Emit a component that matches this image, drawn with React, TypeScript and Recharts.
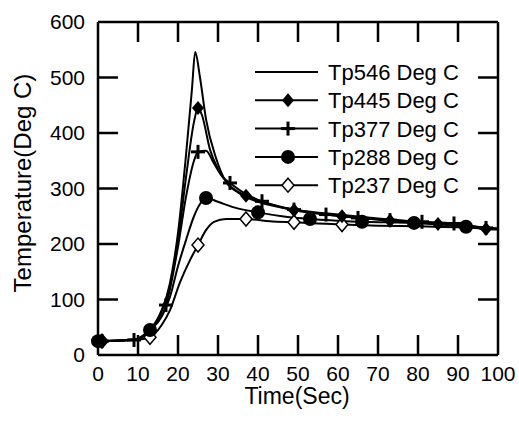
import { LineChart, Line, XAxis, YAxis, ReferenceLine } from 'recharts';

const FONT = '"Liberation Sans", Arial, Helvetica, sans-serif';

// [time (s), temperature (deg C)]
const tp546: [number, number][] = [
  [0, 25], [9, 28], [13, 45], [16, 80], [18, 130], [20, 220], [22, 360], [23.5, 480], [24.3, 546],
  [25.5, 500], [27, 425], [29.5, 355], [32, 312], [35, 293], [40, 276], [45, 267], [50, 261],
  [60, 253], [70, 246], [80, 240], [90, 234], [100, 227],
];
const tp445: [number, number][] = [
  [0, 25], [1, 25], [9, 28], [13, 45], [16, 82], [18, 125], [20, 205], [22, 320], [24, 420], [25, 445],
  [26, 432], [28, 370], [30, 335], [33, 305], [37, 287], [41, 276], [45, 268], [49, 261], [55, 255],
  [61, 250], [67, 246], [73, 242], [79, 239], [85, 236], [91, 232], [97, 227], [100, 226],
];
const tp445Marks = [1, 13, 25, 37, 49, 61, 73, 85, 97];

const tp377: [number, number][] = [
  [0, 25], [1, 25], [9, 27], [13, 45], [17, 90], [20, 195], [22, 285], [24, 350], [25, 366], [27, 368],
  [29, 345], [31, 322], [33, 310], [37, 290], [41, 277], [45, 268], [49, 262], [57, 253], [65, 247],
  [73, 243], [81, 240], [89, 237], [97, 229], [100, 228],
];
const tp377Marks = [1, 9, 17, 25, 33, 41, 49, 57, 65, 73, 81, 89, 97];

const tp288: [number, number][] = [
  [0, 25], [9, 28], [13, 45], [16, 70], [18, 105], [20, 160], [22, 207], [24, 250], [25.5, 272],
  [27, 283], [30, 276], [34, 266], [40, 257], [46, 250], [53, 245], [60, 242], [66, 240], [72, 239],
  [79, 238], [86, 235], [92, 231], [100, 227],
];
const tp288Marks = [0, 13, 27, 40, 53, 66, 79, 92];

const tp237: [number, number][] = [
  [0, 25], [1, 25], [9, 27], [13, 32], [16, 55], [18, 81], [20.5, 131], [23, 171], [25, 198],
  [27, 225], [29, 240], [32, 245], [37, 245], [43, 241], [49, 239], [55, 237], [61, 235],
  [70, 233], [80, 232], [90, 230], [100, 228],
];
const tp237Marks = [1, 13, 25, 37, 49, 61];

const xTicks = [0, 10, 20, 30, 40, 50, 60, 70, 80, 90, 100];
const yTicks = [0, 100, 200, 300, 400, 500, 600];

type Kind = 'none' | 'fdiamond' | 'plus' | 'circle' | 'odiamond';

const series: { name: string; kind: Kind; points: [number, number][]; marks: number[] }[] = [
  { name: 'Tp546 Deg C', kind: 'none', points: tp546, marks: [] },
  { name: 'Tp445 Deg C', kind: 'fdiamond', points: tp445, marks: tp445Marks },
  { name: 'Tp377 Deg C', kind: 'plus', points: tp377, marks: tp377Marks },
  { name: 'Tp288 Deg C', kind: 'circle', points: tp288, marks: tp288Marks },
  { name: 'Tp237 Deg C', kind: 'odiamond', points: tp237, marks: tp237Marks },
];

// plot box (matches chart size, margins and axis sizes below)
const W = 519;
const H = 423;
const LEFT = 98;
const RIGHT = W - 21;
const TOP = 22;
const BOTTOM = H - 68;
const TICK_LEN = 20;
const X_MAX = xTicks[xTicks.length - 1];
const Y_MAX = yTicks[yTicks.length - 1];

function Marker({ kind, cx, cy }: { kind: Kind; cx: number; cy: number }) {
  if (kind === 'fdiamond') {
    return <polygon points={`${cx},${cy - 7} ${cx + 6},${cy} ${cx},${cy + 7} ${cx - 6},${cy}`} fill="#000" />;
  }
  if (kind === 'plus') {
    return (
      <g stroke="#000" strokeWidth={3}>
        <line x1={cx - 7} y1={cy} x2={cx + 7} y2={cy} />
        <line x1={cx} y1={cy - 7} x2={cx} y2={cy + 7} />
      </g>
    );
  }
  if (kind === 'circle') {
    return <circle cx={cx} cy={cy} r={7} fill="#000" />;
  }
  if (kind === 'odiamond') {
    return (
      <polygon
        points={`${cx},${cy - 7} ${cx + 6},${cy} ${cx},${cy + 7} ${cx - 6},${cy}`}
        fill="#fff"
        stroke="#000"
        strokeWidth={1.5}
      />
    );
  }
  return null;
}

// inward ticks, titles and legend drawn over the chart
const Overlay = () => {
  const sx = (t: number) => LEFT + ((RIGHT - LEFT) * t) / X_MAX;
  const sy = (v: number) => BOTTOM - ((BOTTOM - TOP) * v) / Y_MAX;
  return (
    <svg width={W} height={H} style={{ position: 'absolute', left: 0, top: 0, pointerEvents: 'none' }}>
      <g stroke="#000" strokeWidth={2.5}>
        {xTicks.slice(1, -1).map((t) => (
          <g key={`x${t}`}>
            <line x1={sx(t)} y1={BOTTOM} x2={sx(t)} y2={BOTTOM - TICK_LEN} />
            <line x1={sx(t)} y1={TOP} x2={sx(t)} y2={TOP + TICK_LEN} />
          </g>
        ))}
        {yTicks.slice(1, -1).map((v) => (
          <g key={`y${v}`}>
            <line x1={LEFT} y1={sy(v)} x2={LEFT + TICK_LEN} y2={sy(v)} />
            <line x1={RIGHT} y1={sy(v)} x2={RIGHT - TICK_LEN} y2={sy(v)} />
          </g>
        ))}
      </g>
      <text x={31} y={183} transform="rotate(-90 31 183)" textAnchor="middle" fontSize={24} fontFamily={FONT} fill="#000">
        Temperature(Deg C)
      </text>
      <text x={297} y={404} textAnchor="middle" fontSize={23} fontFamily={FONT} fill="#000">
        Time(Sec)
      </text>
      {series.map((s, i) => {
        const y = 72 + i * 28.3;
        return (
          <g key={s.name}>
            <line x1={255} y1={y} x2={318} y2={y} stroke="#000" strokeWidth={2} />
            <Marker kind={s.kind} cx={288} cy={y} />
            <text x={328} y={y + 8} fontSize={22} fontFamily={FONT} fill="#000">
              {s.name}
            </text>
          </g>
        );
      })}
    </svg>
  );
};

export default function App() {
  const tickStyle = { fontSize: 21, fill: '#000', fontFamily: FONT };
  const frame = { stroke: '#000', strokeWidth: 2.5 };

  return (
    <div style={{ position: 'absolute', left: 0, top: 0, width: W, height: H, background: '#fff' }}>
      <LineChart width={W} height={H} margin={{ top: TOP, right: W - RIGHT, bottom: 0, left: 0 }}>
        <XAxis
          type="number"
          dataKey="t"
          domain={[0, X_MAX]}
          ticks={xTicks}
          interval={0}
          height={H - BOTTOM}
          axisLine={frame}
          tickLine={false}
          tickSize={0}
          tickMargin={11}
          tick={tickStyle}
        />
        <YAxis
          type="number"
          domain={[0, Y_MAX]}
          ticks={yTicks}
          interval={0}
          width={LEFT}
          axisLine={frame}
          tickLine={false}
          tickSize={0}
          tickMargin={13}
          tick={tickStyle}
        />
        <ReferenceLine y={Y_MAX} stroke="#000" strokeWidth={2.5} />
        <ReferenceLine x={X_MAX} stroke="#000" strokeWidth={2.5} />
        {[...series].reverse().map((s) => (
          <Line
            key={s.name}
            name={s.name}
            data={s.points.map(([t, v]) => ({ t, v, m: s.marks.includes(t) }))}
            dataKey="v"
            type="monotone"
            stroke="#000"
            strokeWidth={2}
            isAnimationActive={false}
            dot={(p: any) =>
              p.payload.m ? (
                <Marker key={`${s.name}-${p.index}`} kind={s.kind} cx={p.cx} cy={p.cy} />
              ) : (
                <g key={`${s.name}-${p.index}`} />
              )
            }
            activeDot={false}
          />
        ))}
      </LineChart>
      <Overlay />
    </div>
  );
}
